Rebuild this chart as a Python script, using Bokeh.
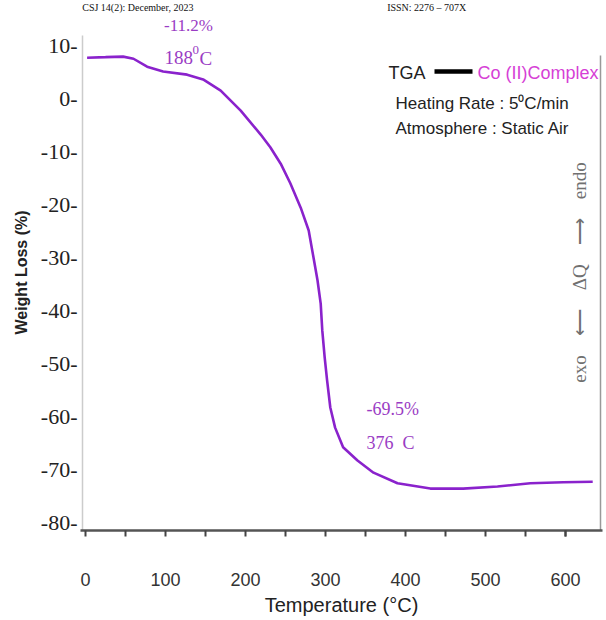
import math
from bokeh.plotting import figure
from bokeh.layouts import column
from bokeh.models import Range1d, Label, FixedTicker, CustomJSTickFormatter
from bokeh.embed import file_html
from bokeh.resources import INLINE

# ---- data (TGA of Co(II) complex) ----
temperature = [2, 25, 47, 60, 77, 97, 127, 147, 169, 194, 219, 231, 244, 256, 269,
               279, 285, 290, 294, 296, 299, 302, 306, 312, 322, 340, 360, 390,
               431, 472, 515, 556, 597, 634]
weight_loss = [7.7, 7.8, 7.9, 7.5, 6.0, 5.1, 4.5, 3.6, 1.5, -2.3, -6.8, -9.2, -12.3,
               -16.0, -20.6, -24.9, -30.0, -34.3, -38.7, -43.8, -48.9, -53.2, -58.3,
               -62.1, -65.8, -68.3, -70.6, -72.6, -73.6, -73.6, -73.2, -72.6, -72.4,
               -72.3]
y_ticks = [10, 0, -10, -20, -30, -40, -50, -60, -70, -80]
x_ticks = [0, 100, 200, 300, 400, 500, 600]
x_minor = [50, 150, 250, 350, 450, 550, 600]

HEADER_H = 14

# page pixel -> data helpers for annotation placement
def dx(px):
    return (px - 85) / 0.8

def dy(py):
    return 10 - (py - 45) / 5.3

NB = "\u00a0"

# ---- thin strip with the page header ----
head = figure(width=606, height=HEADER_H, output_backend="svg", toolbar_location=None,
              x_range=Range1d(0, 606), y_range=Range1d(HEADER_H, 0),
              x_axis_type=None, y_axis_type=None,
              min_border_left=0, min_border_right=0, min_border_top=0,
              min_border_bottom=0)
head.outline_line_color = None
head.grid.visible = False
head.add_layout(Label(x=2, y=HEADER_H / 2, text="CSJ 14(2): December, 2023",
                      text_font="Liberation Serif", text_font_size="10px",
                      text_color="#111111", text_baseline="middle"))
head.add_layout(Label(x=356, y=HEADER_H / 2, text="ISSN: 2276 \u2013 707X",
                      text_font="Liberation Serif", text_font_size="10px",
                      text_color="#111111", text_baseline="middle"))

# ---- main chart ----
p = figure(width=606, height=620 - HEADER_H, output_backend="svg",
           toolbar_location=None,
           x_range=Range1d(dx(80), dx(602)), y_range=Range1d(dy(530), dy(HEADER_H)),
           min_border_left=80, min_border_right=4, min_border_top=0,
           min_border_bottom=90)
p.outline_line_color = None
p.grid.visible = False
p.background_fill_color = "white"
p.border_fill_color = "white"

# axis frame lines (left light grey, right grey)
p.segment(x0=[dx(82)], y0=[dy(35)], x1=[dx(82)], y1=[dy(530)],
          line_color="#cccccc", line_width=1.5)
p.segment(x0=[dx(600)], y0=[dy(55)], x1=[dx(600)], y1=[dy(530)],
          line_color="#999999", line_width=1.5)

p.line(temperature, weight_loss, line_color="#8a22cc", line_width=2.6)

# y axis
ya = p.yaxis[0]
ya.ticker = FixedTicker(ticks=y_ticks)
ya.formatter = CustomJSTickFormatter(code="return tick + '-';")
ya.major_tick_out = 0
ya.major_tick_in = 0
ya.minor_tick_out = 0
ya.minor_tick_in = 0
ya.axis_line_color = None
ya.major_label_standoff = 3
ya.major_label_text_font = "Liberation Serif"
ya.major_label_text_font_size = "22px"
ya.major_label_text_color = "#222222"
ya.axis_label = "Weight Loss (%)"
ya.axis_label_text_font = "Liberation Sans"
ya.axis_label_text_font_style = "bold"
ya.axis_label_text_font_size = "16px"
ya.axis_label_text_color = "#222222"
ya.axis_label_standoff = 8

# x axis
xa = p.xaxis[0]
xa.ticker = FixedTicker(ticks=x_ticks, minor_ticks=x_minor)
xa.formatter = CustomJSTickFormatter(code="return String(tick);")
xa.axis_line_color = "#555555"
xa.axis_line_width = 2.5
xa.major_tick_out = 6
xa.major_tick_in = 0
xa.minor_tick_out = 6
xa.minor_tick_in = 0
xa.major_tick_line_color = "#444444"
xa.major_tick_line_width = 2
xa.minor_tick_line_color = "#444444"
xa.minor_tick_line_width = 2
xa.major_label_standoff = 36
xa.major_label_text_font = "Liberation Sans"
xa.major_label_text_font_size = "18px"
xa.major_label_text_color = "#333333"
xa.axis_label = "Temperature (°C)"
xa.axis_label_text_font = "Liberation Sans"
xa.axis_label_text_font_style = "normal"
xa.axis_label_text_font_size = "20px"
xa.axis_label_text_color = "#222222"
xa.axis_label_standoff = 5

def lab(text, px, py, size, color, font="Liberation Serif", align="left",
        baseline="middle", angle=0.0, style="normal"):
    p.add_layout(Label(x=dx(px), y=dy(py), text=text, text_font=font,
                       text_font_size=f"{size}px", text_color=color,
                       text_align=align, text_baseline=baseline, angle=angle,
                       text_font_style=style))

# annotations
purple = "#9a3cc4"
lab("-11.2%", 188, 25, 17, purple, align="center")
lab("188", 164, 57, 19, purple)
lab("0", 192, 49, 13, purple)
lab("C", 199, 58, 19, purple)
lab("-69.5%", 366, 408, 18, purple)
lab("376" + NB + NB + "C", 366, 442, 18, purple)

# legend-like text block
lab("TGA", 388, 72, 18, "#222222", font="Liberation Sans")
p.segment(x0=[dx(434)], y0=[dy(71)], x1=[dx(472)], y1=[dy(71)],
          line_color="black", line_width=4.5)
lab("Co (II)Complex", 477, 72, 18, "#d63fd6", font="Liberation Sans")
lab("Heating Rate : 5\u2070C/min", 395, 103, 17, "#222222", font="Liberation Sans")
lab("Atmosphere : Static Air", 395, 128, 17, "#222222", font="Liberation Sans")

# DTA direction text
gap = NB * 4
lab("exo" + gap + "\u27f5" + gap + "\u0394Q" + gap + "\u27f6" + gap + "endo",
    579, 272, 19, "#707070", align="center", angle=math.pi / 2)

layout = column(head, p, spacing=0)
open("out.html", "w").write(file_html(layout, INLINE))
